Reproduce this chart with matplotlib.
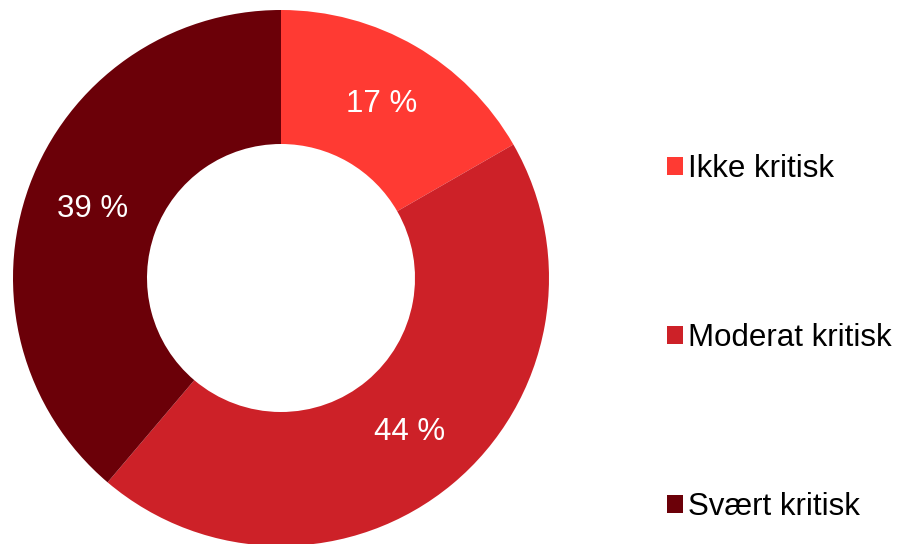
import matplotlib
matplotlib.use("Agg")
import numpy as np
import matplotlib.pyplot as plt
from matplotlib.patches import Patch

plt.rcParams['font.family'] = ['Liberation Sans', 'DejaVu Sans']

# data
categories = ['Ikke kritisk', 'Moderat kritisk', 'Svært kritisk']
values = [16.7, 44.5, 38.8]
labels = ['17 %', '44 %', '39 %']
colors = ['#FF3A33', '#CD2128', '#6B0008']

W, H = 899, 544
fig = plt.figure(figsize=(W / 100, H / 100), dpi=100)

# pie centre (281, 278) px, outer radius 268 px
cx, cy, r = 281, 278, 268
ax = fig.add_axes([(cx - r) / W, (H - cy - r) / H, 2 * r / W, 2 * r / H])

wedges, _ = ax.pie(values, colors=colors, startangle=90, counterclock=False,
                   wedgeprops=dict(width=0.5, edgecolor='none'))
ax.set_aspect('equal')
ax.set_xlim(-1, 1)
ax.set_ylim(-1, 1)

for w, lab in zip(wedges, labels):
    mid = np.deg2rad((w.theta1 + w.theta2) / 2)
    ax.text(0.75 * np.cos(mid), 0.75 * np.sin(mid), lab, color='white',
            fontsize=22.5, ha='center', va='center')

handles = [Patch(facecolor=c, edgecolor='none') for c in colors]
fig.legend(handles, categories, loc='center left',
           bbox_to_anchor=(654 / W, (H - 338) / H),
           frameon=False, fontsize=22.5, labelspacing=4.45, handlelength=0.54,
           handleheight=0.54, handletextpad=0.15, borderaxespad=0)

fig.savefig('out.png', dpi=100)
